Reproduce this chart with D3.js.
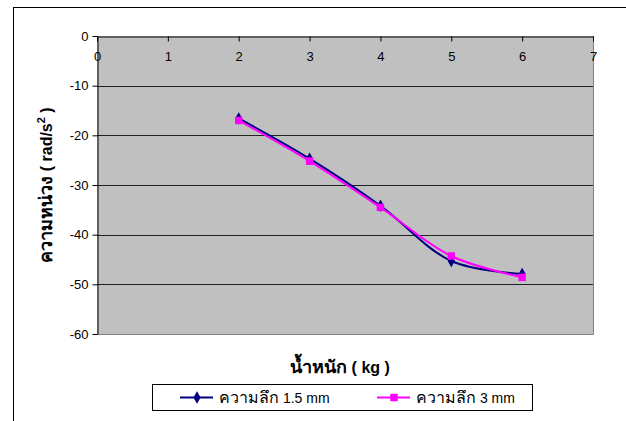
<!DOCTYPE html>
<html>
<head>
<meta charset="utf-8">
<script src="https://cdn.jsdelivr.net/npm/d3@7"></script>
<style>
  html, body { margin: 0; padding: 0; background: #fff; }
  svg { display: block; font-family: "Liberation Sans", Arial, sans-serif; }
</style>
</head>
<body>
<svg id="chart" width="626" height="421"></svg>
<script>
// Load values (kg)
const weights = [2, 3, 4, 5, 6];
// Angular acceleration (rad/s^2) per depth
const depth15 = [-16.6, -24.7, -34.2, -45.3, -47.9];
const depth3 = [-17.0, -25.2, -34.5, -44.3, -48.6];
const xTicks = [0, 1, 2, 3, 4, 5, 6, 7];
const yTicks = [0, -10, -20, -30, -40, -50, -60];
const seriesNames = ["ความลึก 1.5 mm", "ความลึก 3 mm"];

const svg = d3.select("#chart");

// outer chart frame
svg.append("rect")
  .attr("x", 13.5).attr("y", 7.5)
  .attr("width", 640).attr("height", 440)
  .attr("fill", "#fff").attr("stroke", "#000").attr("stroke-width", 1);

const plot = { left: 97, right: 593, top: 36, bottom: 334 };

const x = d3.scaleLinear().domain([0, 7]).range([plot.left, plot.right]);
const y = d3.scaleLinear().domain([0, -60]).range([plot.top, plot.bottom]);
const plain = d => String(d);

// plot background
svg.append("rect")
  .attr("x", plot.left).attr("y", plot.top)
  .attr("width", plot.right - plot.left).attr("height", plot.bottom - plot.top)
  .attr("fill", "#c0c0c0");

// right/bottom plot border
svg.append("path")
  .attr("d", `M${plot.right + 0.5},${plot.top}V${plot.bottom + 0.5}H${plot.left}`)
  .attr("fill", "none").attr("stroke", "#808080").attr("stroke-width", 1);

// horizontal gridlines
svg.append("g")
  .selectAll("line")
  .data(yTicks.filter(d => d !== 0 && d !== -60))
  .join("line")
  .attr("x1", plot.left).attr("x2", plot.right)
  .attr("y1", d => Math.round(y(d)) + 0.5).attr("y2", d => Math.round(y(d)) + 0.5)
  .attr("stroke", "#222").attr("stroke-width", 1);

// y axis
const yAxis = svg.append("g")
  .attr("transform", `translate(${plot.left + 0.5},0)`)
  .call(d3.axisLeft(y).tickValues(yTicks).tickFormat(plain)
    .tickSize(5).tickSizeOuter(0).tickPadding(4));
yAxis.select(".domain").attr("stroke", "#000");
yAxis.selectAll(".tick line").attr("stroke", "#000");
yAxis.selectAll("text")
  .attr("font-size", 13).attr("fill", "#000")
  .attr("font-family", "Liberation Sans, Arial, sans-serif");

// x axis along y = 0, ticks pointing into the plot
const xAxis = svg.append("g")
  .attr("transform", `translate(0,${plot.top + 0.5})`)
  .call(d3.axisBottom(x).tickValues(xTicks).tickFormat(plain)
    .tickSize(5).tickSizeOuter(0).tickPadding(10));
xAxis.select(".domain").attr("stroke", "#000");
xAxis.selectAll(".tick line").attr("stroke", "#000");
xAxis.selectAll("text")
  .attr("font-size", 13).attr("fill", "#000")
  .attr("font-family", "Liberation Sans, Arial, sans-serif");

// axis titles
const xTitle = svg.append("text")
  .attr("x", 340).attr("y", 373)
  .attr("text-anchor", "middle")
  .attr("font-size", 16).attr("font-weight", "bold");
xTitle.append("tspan").attr("font-size", 18).text("น้ำหนัก");
xTitle.append("tspan").text(" ( kg )");

const yTitle = svg.append("text")
  .attr("transform", `translate(52,${(plot.top + plot.bottom) / 2}) rotate(-90)`)
  .attr("text-anchor", "middle")
  .attr("font-size", 16).attr("font-weight", "bold");
yTitle.append("tspan").attr("font-size", 18).text("ความหน่วง");
yTitle.append("tspan").text(" ( rad/s");
yTitle.append("tspan").attr("dy", -7).attr("font-size", 11).text("2");
yTitle.append("tspan").attr("dy", 7).text(" )");

// series
const series = [
  { name: seriesNames[0], values: depth15, color: "#000080", marker: d3.symbolDiamond, size: 45 },
  { name: seriesNames[1], values: depth3, color: "#ff00ff", marker: d3.symbolSquare, size: 55 }
];

const line = d3.line()
  .x((d, i) => x(weights[i]))
  .y(d => y(d))
  .curve(d3.curveCatmullRom.alpha(0.5));

series.forEach(s => {
  svg.append("path")
    .datum(s.values)
    .attr("d", line)
    .attr("fill", "none")
    .attr("stroke", s.color)
    .attr("stroke-width", 2);
});

series.forEach(s => {
  svg.append("g")
    .selectAll("path")
    .data(s.values)
    .join("path")
    .attr("transform", (d, i) => `translate(${x(weights[i])},${y(d)})`)
    .attr("d", d3.symbol().type(s.marker).size(s.size))
    .attr("fill", s.color);
});

// legend
const legend = svg.append("g");
legend.append("rect")
  .attr("x", 152.5).attr("y", 384.5).attr("width", 380).attr("height", 26)
  .attr("fill", "#fff").attr("stroke", "#000");

const legendX = [180, 377];
series.forEach((s, i) => {
  const g = legend.append("g").attr("transform", `translate(${legendX[i]},397.5)`);
  g.append("line").attr("x1", 0).attr("x2", 33)
    .attr("stroke", s.color).attr("stroke-width", 2);
  g.append("path").attr("transform", "translate(17,0)")
    .attr("d", d3.symbol().type(s.marker).size(s.size)).attr("fill", s.color);
  const cut = s.name.indexOf(" ");
  const t = g.append("text").attr("x", 39).attr("y", 5).attr("font-size", 14);
  t.append("tspan").attr("font-size", 16).text(s.name.slice(0, cut));
  t.append("tspan").text(s.name.slice(cut));
});
</script>
</body>
</html>
